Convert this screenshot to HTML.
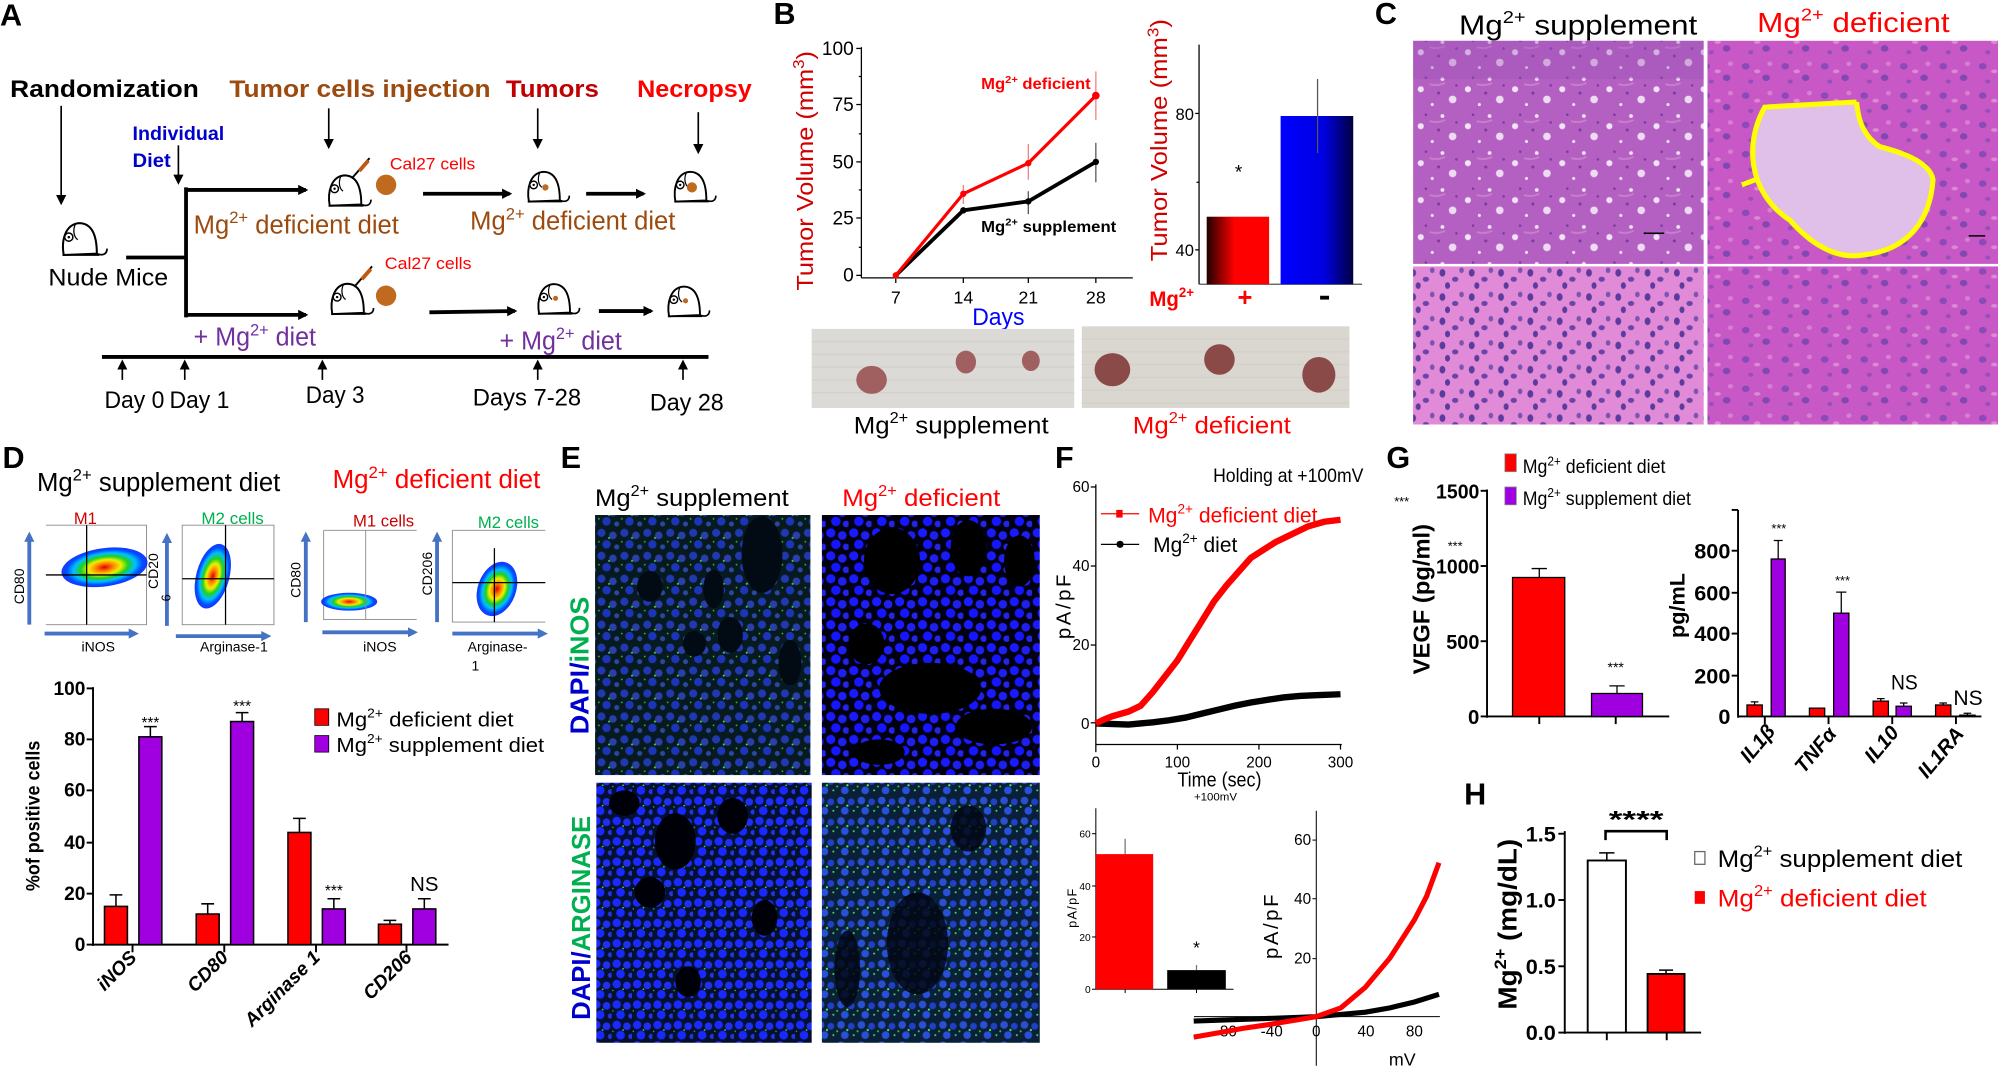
<!DOCTYPE html>
<html><head><meta charset="utf-8"><style>
html,body{margin:0;padding:0;background:#fff;width:1998px;height:1067px;overflow:hidden}
svg{display:block}
text{font-family:"Liberation Sans",sans-serif}
</style></head><body>
<svg width="1998" height="1067" viewBox="0 0 1568 837" preserveAspectRatio="none" xmlns="http://www.w3.org/2000/svg">
<defs>
<marker id="ah" markerWidth="8" markerHeight="8" refX="6" refY="4" orient="auto" markerUnits="userSpaceOnUse"><path d="M0,0 L8,4 L0,8 Z" fill="#000"/></marker>
<marker id="ahb" markerWidth="8" markerHeight="8" refX="5" refY="4" orient="auto" markerUnits="userSpaceOnUse"><path d="M0,0 L8,4 L0,8 Z" fill="#4472c4"/></marker>
<symbol id="mouse" viewBox="0 0 42 30"><path d="M5,28 C3,17 6,4 17,3 C28,3 31,14 31,27 Z" fill="#fff" stroke="#000" stroke-width="1.6"/><path d="M31,27 C36,29 39,27 39,23" fill="none" stroke="#000" stroke-width="1.4"/><path d="M4,28 L33,28" stroke="#000" stroke-width="1.4"/><circle cx="9" cy="14" r="3.2" fill="#fff" stroke="#000" stroke-width="1.2"/><circle cx="9" cy="14" r="1" fill="#000"/><path d="M14,4 C12,9 13,14 16,16" fill="none" stroke="#000" stroke-width="1"/></symbol>
<radialGradient id="blob"><stop offset="0" stop-color="#e00000"/><stop offset="0.2" stop-color="#ff8000"/><stop offset="0.38" stop-color="#f0f000"/><stop offset="0.55" stop-color="#20d020"/><stop offset="0.72" stop-color="#00c0ff"/><stop offset="0.88" stop-color="#0050ff"/><stop offset="1" stop-color="#0020ff" stop-opacity="0.9"/></radialGradient>
<linearGradient id="redbar" x1="0" x2="1"><stop offset="0" stop-color="#200000"/><stop offset="0.45" stop-color="#ff0000"/><stop offset="1" stop-color="#ff0000"/></linearGradient>
<linearGradient id="bluebar" x1="0" x2="1"><stop offset="0" stop-color="#0000ff"/><stop offset="0.6" stop-color="#0000e0"/><stop offset="1" stop-color="#000040"/></linearGradient>
<pattern id="he1" width="37" height="29" patternUnits="userSpaceOnUse"><rect width="37" height="29" fill="#b460c2"/><circle cx="5" cy="12" r="2.4" fill="#f0e4f4"/><circle cx="22" cy="4" r="1.5" fill="#f0e4f4"/><circle cx="30" cy="20" r="3" fill="#ecdcf0"/><circle cx="14" cy="24" r="1.2" fill="#f0e4f4"/><circle cx="19" cy="15" r="1.2" fill="#7a3aa0"/><circle cx="9" cy="3" r="1" fill="#7a3aa0"/><circle cx="33" cy="9" r="1" fill="#7a3aa0"/><path d="M12,8 Q18,10 24,7" stroke="#c880cc" stroke-width="1.5" fill="none"/></pattern>
<pattern id="he2" width="23" height="19" patternUnits="userSpaceOnUse"><rect width="23" height="19" fill="#e08ad8"/><ellipse cx="5" cy="5" rx="2.3" ry="3" fill="#5b3b9e"/><ellipse cx="15" cy="10" rx="2.5" ry="2" fill="#6a44a8"/><ellipse cx="9" cy="15" rx="2" ry="2.6" fill="#5b3b9e"/><ellipse cx="20" cy="3" rx="1.8" ry="2.2" fill="#7a54b0"/></pattern>
<pattern id="he3" width="31" height="23" patternUnits="userSpaceOnUse"><rect width="31" height="23" fill="#c858c6"/><ellipse cx="6" cy="6" rx="3" ry="2.6" fill="#8a4ab8"/><ellipse cx="22" cy="15" rx="3" ry="2.5" fill="#8048b0"/><ellipse cx="10" cy="18" rx="2" ry="1.6" fill="#9450b8"/><ellipse cx="25" cy="4" rx="2" ry="1.8" fill="#d880d0"/><ellipse cx="15" cy="10" rx="2.5" ry="1.5" fill="#dc8ad4"/></pattern>
<pattern id="dapi" width="18" height="18" patternUnits="userSpaceOnUse"><rect width="18" height="18" fill="#000010"/><circle cx="4" cy="4" r="3.6" fill="#1a1aff"/><circle cx="13" cy="6" r="3.4" fill="#2020ee"/><circle cx="8" cy="13" r="3.7" fill="#1515ff"/><circle cx="16" cy="15" r="2.6" fill="#2525e8"/></pattern>
<pattern id="dapig" width="18" height="18" patternUnits="userSpaceOnUse"><rect width="18" height="18" fill="#061a20"/><circle cx="4" cy="4" r="3.2" fill="#2038b0"/><circle cx="13" cy="6" r="3" fill="#2a40a8"/><circle cx="8" cy="13" r="3.3" fill="#1c34b8"/><circle cx="16" cy="15" r="2" fill="#2a48a0"/><circle cx="10" cy="8" r="0.8" fill="#40e040"/><circle cx="2" cy="11" r="0.7" fill="#30c030"/></pattern>
<pattern id="dapiarg" width="16" height="16" patternUnits="userSpaceOnUse"><rect width="16" height="16" fill="#041030"/><circle cx="4" cy="4" r="3.3" fill="#1a2aff"/><circle cx="12" cy="5" r="3" fill="#2030f0"/><circle cx="7" cy="12" r="3.4" fill="#1828ff"/><circle cx="15" cy="13" r="2" fill="#2535e0"/><circle cx="9" cy="8" r="0.7" fill="#40e040"/><circle cx="1" cy="9" r="0.6" fill="#30c030"/></pattern>
<pattern id="dapiarg2" width="16" height="16" patternUnits="userSpaceOnUse"><rect width="16" height="16" fill="#0a2038"/><circle cx="4" cy="4" r="3" fill="#2a50d0"/><circle cx="12" cy="5" r="2.7" fill="#2040c8"/><circle cx="7" cy="12" r="3" fill="#2850d8"/><circle cx="9" cy="8" r="0.9" fill="#50f050"/><circle cx="1" cy="9" r="0.8" fill="#30d030"/><circle cx="14" cy="12" r="0.8" fill="#40e060"/></pattern>
</defs>

<!-- ===== Panel A ===== -->
<text x="0" y="20" font-size="24" font-weight="bold">A</text>
<text x="8" y="76" font-size="19" font-weight="bold" textLength="148" lengthAdjust="spacingAndGlyphs">Randomization</text>
<text x="180" y="76" font-size="19" font-weight="bold" fill="#9c4a0e" textLength="205" lengthAdjust="spacingAndGlyphs">Tumor cells injection</text>
<text x="397" y="76" font-size="19" font-weight="bold" fill="#c00000" textLength="73" lengthAdjust="spacingAndGlyphs">Tumors</text>
<text x="500" y="76" font-size="19" font-weight="bold" fill="#ff0000" textLength="90" lengthAdjust="spacingAndGlyphs">Necropsy</text>
<text x="104" y="110" font-size="15" font-weight="bold" fill="#0000cc" textLength="72" lengthAdjust="spacingAndGlyphs">Individual</text>
<text x="104" y="131" font-size="15" font-weight="bold" fill="#0000cc" textLength="30" lengthAdjust="spacingAndGlyphs">Diet</text>
<g stroke="#000" stroke-width="1.3" marker-end="url(#ah)">
<line x1="48" y1="83" x2="48" y2="159"/><line x1="140" y1="114" x2="140" y2="143"/>
<line x1="258" y1="85" x2="258" y2="115"/><line x1="422" y1="85" x2="422" y2="115"/><line x1="548" y1="88" x2="548" y2="119"/>
</g>
<use href="#mouse" x="44" y="172" width="44" height="30"/>
<text x="38" y="224" font-size="19" textLength="94" lengthAdjust="spacingAndGlyphs">Nude Mice</text>
<g stroke="#000" stroke-width="3" fill="none">
<line x1="99" y1="202" x2="146" y2="202"/><line x1="146" y1="147" x2="146" y2="249"/>
</g>
<g stroke="#000" stroke-width="3" marker-end="url(#ah)">
<line x1="145" y1="149" x2="240" y2="149"/><line x1="145" y1="247" x2="240" y2="247"/>
<line x1="332" y1="152" x2="400" y2="152"/><line x1="460" y1="152" x2="505" y2="152"/>
<line x1="337" y1="245" x2="404" y2="244"/><line x1="470" y1="244" x2="511" y2="244"/>
</g>
<use href="#mouse" x="254" y="133" width="40" height="32"/>
<use href="#mouse" x="256" y="218" width="40" height="32"/>
<g stroke="#000" stroke-width="1.5"><line x1="276" y1="140" x2="290" y2="124"/><line x1="278" y1="225" x2="292" y2="209"/></g>
<g stroke="#c05a10" stroke-width="3"><line x1="282" y1="134" x2="289" y2="126"/><line x1="284" y1="219" x2="291" y2="211"/></g>
<circle cx="303" cy="145" r="8" fill="#c06a20"/><circle cx="303" cy="232" r="8" fill="#c06a20"/>
<text x="306" y="133" font-size="13" fill="#ff0000" textLength="67" lengthAdjust="spacingAndGlyphs">Cal27 cells</text>
<text x="302" y="211" font-size="13" fill="#ff0000" textLength="68" lengthAdjust="spacingAndGlyphs">Cal27 cells</text>
<use href="#mouse" x="408" y="132" width="44" height="28"/><use href="#mouse" x="523" y="132" width="44" height="28"/>
<circle cx="428" cy="147" r="2.5" fill="#c06a20"/><circle cx="543" cy="147" r="4" fill="#c06a20"/>
<use href="#mouse" x="416" y="220" width="44" height="28"/><use href="#mouse" x="518" y="222" width="44" height="28"/>
<circle cx="436" cy="234" r="2" fill="#c06a20"/><circle cx="538" cy="236" r="2" fill="#c06a20"/>
<text x="152" y="183" font-size="20" fill="#9c4a0e" textLength="161" lengthAdjust="spacingAndGlyphs">Mg<tspan font-size="13" dy="-8">2+</tspan><tspan dy="8"> deficient diet</tspan></text>
<text x="369" y="180" font-size="20" fill="#9c4a0e" textLength="161" lengthAdjust="spacingAndGlyphs">Mg<tspan font-size="13" dy="-8">2+</tspan><tspan dy="8"> deficient diet</tspan></text>
<text x="152" y="271" font-size="20" fill="#7030a0" textLength="96" lengthAdjust="spacingAndGlyphs">+ Mg<tspan font-size="13" dy="-8">2+</tspan><tspan dy="8"> diet</tspan></text>
<text x="392" y="274" font-size="20" fill="#7030a0" textLength="96" lengthAdjust="spacingAndGlyphs">+ Mg<tspan font-size="13" dy="-8">2+</tspan><tspan dy="8"> diet</tspan></text>
<line x1="80" y1="280" x2="556" y2="280" stroke="#000" stroke-width="3"/>
<g stroke="#000" stroke-width="1.3" marker-end="url(#ah)">
<line x1="96" y1="298" x2="96" y2="284"/><line x1="145" y1="298" x2="145" y2="284"/><line x1="253" y1="298" x2="253" y2="284"/><line x1="422" y1="298" x2="422" y2="284"/><line x1="536" y1="298" x2="536" y2="284"/>
</g>
<g font-size="19">
<text x="82" y="320" textLength="47" lengthAdjust="spacingAndGlyphs">Day 0</text>
<text x="133" y="320" textLength="47" lengthAdjust="spacingAndGlyphs">Day 1</text>
<text x="240" y="316" textLength="46" lengthAdjust="spacingAndGlyphs">Day 3</text>
<text x="371" y="318" textLength="85" lengthAdjust="spacingAndGlyphs">Days 7-28</text>
<text x="510" y="322" textLength="58" lengthAdjust="spacingAndGlyphs">Day 28</text>
</g>

<!-- ===== Panel B ===== -->
<text x="607" y="19" font-size="24" font-weight="bold">B</text>
<g stroke="#000" stroke-width="1">
<line x1="676" y1="37" x2="676" y2="218"/><line x1="676" y1="218" x2="889" y2="218"/>
<line x1="672" y1="38" x2="676" y2="38"/><line x1="672" y1="82" x2="676" y2="82"/><line x1="672" y1="127" x2="676" y2="127"/><line x1="672" y1="171" x2="676" y2="171"/><line x1="672" y1="216" x2="676" y2="216"/>
<line x1="674" y1="60" x2="676" y2="60"/><line x1="674" y1="105" x2="676" y2="105"/><line x1="674" y1="149" x2="676" y2="149"/><line x1="674" y1="194" x2="676" y2="194"/>
<line x1="703" y1="218" x2="703" y2="222"/><line x1="756" y1="218" x2="756" y2="222"/><line x1="807" y1="218" x2="807" y2="222"/><line x1="860" y1="218" x2="860" y2="222"/>
</g>
<g font-size="15" text-anchor="end"><text x="670" y="43">100</text><text x="670" y="87">75</text><text x="670" y="132">50</text><text x="670" y="176">25</text><text x="670" y="221">0</text></g>
<g font-size="14" text-anchor="middle"><text x="703" y="238">7</text><text x="756" y="238">14</text><text x="807" y="238">21</text><text x="860" y="238">28</text></g>
<text transform="translate(638,134) rotate(-90)" font-size="18" fill="#d00000" text-anchor="middle" textLength="188" lengthAdjust="spacingAndGlyphs">Tumor Volume (mm<tspan font-size="12" dy="-7">3</tspan><tspan dy="7">)</tspan></text>
<text x="763" y="255" font-size="19" fill="#0000ff" textLength="41" lengthAdjust="spacingAndGlyphs">Days</text>
<g stroke="#f08080" stroke-width="1"><line x1="756" y1="145" x2="756" y2="160"/><line x1="807" y1="113" x2="807" y2="141"/><line x1="860" y1="56" x2="860" y2="94"/></g>
<g stroke="#555" stroke-width="1"><line x1="807" y1="150" x2="807" y2="168"/><line x1="860" y1="112" x2="860" y2="143"/></g>
<polyline points="703,216 756,165 807,158 860,127" fill="none" stroke="#000" stroke-width="3"/>
<polyline points="703,216 756,152 807,128 860,75" fill="none" stroke="#ff0000" stroke-width="2.5"/>
<g fill="#000"><circle cx="756" cy="165" r="2.5"/><circle cx="807" cy="158" r="2.5"/><circle cx="860" cy="127" r="2.5"/></g>
<g fill="#f00"><circle cx="703" cy="216" r="2.5"/><circle cx="756" cy="152" r="2.5"/><circle cx="807" cy="128" r="2.5"/><circle cx="860" cy="75" r="3"/></g>
<text x="770" y="70" font-size="12" font-weight="bold" fill="#ff0000" textLength="86" lengthAdjust="spacingAndGlyphs">Mg<tspan font-size="8" dy="-5">2+</tspan><tspan dy="5"> deficient</tspan></text>
<text x="770" y="182" font-size="12" font-weight="bold" textLength="106" lengthAdjust="spacingAndGlyphs">Mg<tspan font-size="8" dy="-5">2+</tspan><tspan dy="5"> supplement</tspan></text>
<line x1="941" y1="35" x2="941" y2="223" stroke="#000" stroke-width="1"/>
<line x1="941" y1="223" x2="1069" y2="223" stroke="#555" stroke-width="1"/>
<g stroke="#000"><line x1="938" y1="89" x2="941" y2="89"/><line x1="938" y1="196" x2="941" y2="196"/><line x1="939" y1="143" x2="941" y2="143"/></g>
<g font-size="13" text-anchor="end"><text x="937" y="94">80</text><text x="937" y="201">40</text></g>
<rect x="947" y="170" width="49" height="53" fill="url(#redbar)"/>
<rect x="1005" y="91" width="57" height="132" fill="url(#bluebar)"/>
<line x1="1034" y1="62" x2="1034" y2="120" stroke="#555" stroke-width="1"/>
<text x="972" y="140" font-size="15" text-anchor="middle">*</text>
<text transform="translate(916,110) rotate(-90)" font-size="18" fill="#d00000" text-anchor="middle" textLength="190" lengthAdjust="spacingAndGlyphs">Tumor Volume (mm<tspan font-size="12" dy="-7">3</tspan><tspan dy="7">)</tspan></text>
<text x="902" y="240" font-size="17" font-weight="bold" fill="#ff0000" textLength="35" lengthAdjust="spacingAndGlyphs">Mg<tspan font-size="11" dy="-7">2+</tspan><tspan dy="7"></tspan></text>
<text x="977" y="240" font-size="20" font-weight="bold" fill="#ff0000" text-anchor="middle">+</text>
<rect x="1036" y="232" width="7" height="3" fill="#000"/>
<rect x="637" y="258" width="206" height="62" fill="#dcdad6"/>
<rect x="849" y="256" width="210" height="64" fill="#dad6d0"/>
<g stroke="#cfcbc5" stroke-width="1.2" opacity="0.6">
<path d="M637,268 H843 M637,278 H843 M637,288 H843 M637,298 H843 M637,308 H843 M849,266 H1059 M849,276 H1059 M849,286 H1059 M849,296 H1059 M849,306 H1059 M849,316 H1059"/></g>
<g fill="#a06060"><ellipse cx="684" cy="298" rx="12" ry="11"/><ellipse cx="758" cy="284" rx="8" ry="9"/><ellipse cx="809" cy="283" rx="7" ry="8"/>
<ellipse cx="873" cy="290" rx="14" ry="13" fill="#8a4a48"/><ellipse cx="957" cy="282" rx="12" ry="12" fill="#8a4a48"/><ellipse cx="1035" cy="294" rx="13" ry="14" fill="#8a4a48"/></g>
<text x="670" y="340" font-size="19" textLength="153" lengthAdjust="spacingAndGlyphs">Mg<tspan font-size="12" dy="-8">2+</tspan><tspan dy="8"> supplement</tspan></text>
<text x="889" y="340" font-size="19" fill="#ff0000" textLength="124" lengthAdjust="spacingAndGlyphs">Mg<tspan font-size="12" dy="-8">2+</tspan><tspan dy="8"> deficient</tspan></text>

<!-- ===== Panel C ===== -->
<text x="1079" y="19" font-size="24" font-weight="bold">C</text>
<text x="1145" y="27" font-size="22" textLength="187" lengthAdjust="spacingAndGlyphs">Mg<tspan font-size="14" dy="-9">2+</tspan><tspan dy="9"> supplement</tspan></text>
<text x="1379" y="25" font-size="22" fill="#ff0000" textLength="151" lengthAdjust="spacingAndGlyphs">Mg<tspan font-size="14" dy="-9">2+</tspan><tspan dy="9"> deficient</tspan></text>
<rect x="1109" y="32" width="228" height="175" fill="url(#he1)"/>
<rect x="1109" y="32" width="228" height="30" fill="#9c50b8" opacity="0.35"/>
<rect x="1340" y="32" width="228" height="175" fill="url(#he3)"/>
<path d="M1385,84 C1370,110 1370,150 1405,173 C1420,190 1440,204 1462,200 C1500,196 1515,170 1517,141 C1515,128 1495,120 1475,115 C1460,105 1458,90 1457,80 Z" fill="#e0c0e8"/>
<path d="M1457,80 L1385,84 C1370,110 1370,150 1405,173 C1420,190 1440,204 1462,200 C1500,196 1515,170 1517,141 C1515,128 1495,120 1475,115 C1460,105 1458,90 1457,80 M1380,140 L1367,145" fill="none" stroke="#ffff00" stroke-width="4"/>
<rect x="1109" y="209" width="228" height="124" fill="url(#he2)"/>
<rect x="1340" y="209" width="228" height="124" fill="url(#he3)"/>
<line x1="1290" y1="183" x2="1306" y2="183" stroke="#000" stroke-width="1.2"/>
<line x1="1545" y1="185" x2="1558" y2="185" stroke="#000" stroke-width="1.2"/>

<!-- ===== Panel D ===== -->
<text x="2" y="367" font-size="24" font-weight="bold">D</text>
<text x="29" y="385" font-size="20" textLength="191" lengthAdjust="spacingAndGlyphs">Mg<tspan font-size="13" dy="-8">2+</tspan><tspan dy="8"> supplement diet</tspan></text>
<text x="261" y="383" font-size="20" fill="#ff0000" textLength="163" lengthAdjust="spacingAndGlyphs">Mg<tspan font-size="13" dy="-8">2+</tspan><tspan dy="8"> deficient diet</tspan></text>
<g stroke="#4472c4" stroke-width="3" marker-end="url(#ahb)">
<line x1="23" y1="490" x2="23" y2="420"/><line x1="35" y1="497" x2="106" y2="497"/>
<line x1="131" y1="491" x2="131" y2="421"/><line x1="138" y1="499" x2="210" y2="499"/>
<line x1="240" y1="488" x2="240" y2="420"/><line x1="253" y1="496" x2="325" y2="496"/>
<line x1="343" y1="488" x2="343" y2="420"/><line x1="355" y1="497" x2="427" y2="497"/>
</g>
<g stroke="#888" stroke-width="0.7" fill="none">
<path d="M36,412 H115 V490 H36"/><path d="M143,412 H215 V490 H143 Z"/><path d="M254,416 H327 M254,416 V486 H327"/><path d="M355,416 H428 M355,416 V488 H428"/>
</g>
<ellipse cx="82" cy="445" rx="34" ry="15" fill="url(#blob)" transform="rotate(-8 82 445)"/>
<ellipse cx="167" cy="452" rx="13" ry="26" fill="url(#blob)" transform="rotate(15 167 452)"/>
<ellipse cx="274" cy="472" rx="22" ry="7" fill="url(#blob)"/>
<ellipse cx="390" cy="462" rx="15" ry="22" fill="url(#blob)" transform="rotate(20 390 462)"/>
<g stroke="#000" stroke-width="1">
<line x1="68" y1="412" x2="68" y2="490"/><line x1="36" y1="451" x2="115" y2="451"/>
<line x1="177" y1="412" x2="177" y2="490"/><line x1="143" y1="454" x2="215" y2="454"/>
<line x1="388" y1="430" x2="388" y2="488"/><line x1="355" y1="457" x2="428" y2="457"/>
</g>
<line x1="287" y1="416" x2="287" y2="486" stroke="#888" stroke-width="0.7"/>
<text x="58" y="411" font-size="13" fill="#cc0000">M1</text>
<text x="158" y="411" font-size="13" fill="#00b050" textLength="49" lengthAdjust="spacingAndGlyphs">M2 cells</text>
<text x="277" y="413" font-size="13" fill="#cc0000" textLength="48" lengthAdjust="spacingAndGlyphs">M1 cells</text>
<text x="375" y="414" font-size="13" fill="#00b050" textLength="48" lengthAdjust="spacingAndGlyphs">M2 cells</text>
<g font-size="11">
<text transform="translate(19,460) rotate(-90)" text-anchor="middle">CD80</text>
<text transform="translate(124,448) rotate(-90)" text-anchor="middle">CD20</text>
<text transform="translate(134,469) rotate(-90)" text-anchor="middle" font-size="10">6</text>
<text transform="translate(236,455) rotate(-90)" text-anchor="middle">CD80</text>
<text transform="translate(339,450) rotate(-90)" text-anchor="middle">CD206</text>
<text x="64" y="511">iNOS</text><text x="157" y="511">Arginase-1</text><text x="285" y="511">iNOS</text><text x="367" y="511">Arginase-</text><text x="370" y="526">1</text>
</g>
<g stroke="#000" stroke-width="1.5"><line x1="73" y1="539" x2="73" y2="742"/><line x1="73" y1="741" x2="352" y2="741"/>
<line x1="68" y1="540" x2="73" y2="540"/><line x1="68" y1="580" x2="73" y2="580"/><line x1="68" y1="620" x2="73" y2="620"/><line x1="68" y1="661" x2="73" y2="661"/><line x1="68" y1="701" x2="73" y2="701"/><line x1="68" y1="741" x2="73" y2="741"/>
<line x1="104" y1="741" x2="104" y2="747"/><line x1="176" y1="741" x2="176" y2="747"/><line x1="248" y1="741" x2="248" y2="747"/><line x1="319" y1="741" x2="319" y2="747"/></g>
<g font-size="15" font-weight="bold" text-anchor="end"><text x="67" y="545">100</text><text x="67" y="585">80</text><text x="67" y="625">60</text><text x="67" y="666">40</text><text x="67" y="706">20</text><text x="67" y="746">0</text></g>
<g stroke="#000" stroke-width="1.2">
<rect x="82" y="711" width="18" height="30" fill="#ff0000"/><rect x="109" y="578" width="18" height="163" fill="#a000e0"/>
<rect x="154" y="717" width="18" height="24" fill="#ff0000"/><rect x="181" y="566" width="18" height="175" fill="#a000e0"/>
<rect x="226" y="653" width="18" height="88" fill="#ff0000"/><rect x="253" y="713" width="18" height="28" fill="#a000e0"/>
<rect x="297" y="725" width="18" height="16" fill="#ff0000"/><rect x="324" y="713" width="18" height="28" fill="#a000e0"/>
<path d="M91,711 V702 M86,702 H96 M118,578 V570 M113,570 H123 M163,717 V709 M158,709 H168 M190,566 V559 M185,559 H195 M235,653 V642 M230,642 H240 M262,713 V705 M257,705 H267 M306,725 V722 M301,722 H311 M333,713 V705 M328,705 H338" fill="none"/>
</g>
<g font-size="12" text-anchor="middle"><text x="118" y="571">***</text><text x="190" y="558">***</text><text x="262" y="703">***</text></g>
<text x="333" y="699" font-size="16" text-anchor="middle">NS</text>
<g font-size="15" font-weight="bold" font-style="italic" text-anchor="end">
<text transform="translate(108,752) rotate(-45)">iNOS</text>
<text transform="translate(180,752) rotate(-45)">CD80</text>
<text transform="translate(252,752) rotate(-45)">Arginase 1</text>
<text transform="translate(324,752) rotate(-45)">CD206</text>
</g>
<text transform="translate(31,640) rotate(-90)" font-size="15" font-weight="bold" text-anchor="middle" textLength="118" lengthAdjust="spacingAndGlyphs">%of positive cells</text>
<rect x="247" y="556" width="11" height="13" fill="#ff0000" stroke="#000" stroke-width="0.6"/>
<rect x="247" y="577" width="11" height="13" fill="#a000e0" stroke="#000" stroke-width="0.6"/>
<text x="264" y="570" font-size="16" textLength="139" lengthAdjust="spacingAndGlyphs">Mg<tspan font-size="10" dy="-7">2+</tspan><tspan dy="7"> deficient diet</tspan></text>
<text x="264" y="590" font-size="16" textLength="163" lengthAdjust="spacingAndGlyphs">Mg<tspan font-size="10" dy="-7">2+</tspan><tspan dy="7"> supplement diet</tspan></text>

<!-- ===== Panel E ===== -->
<text x="440" y="367" font-size="24" font-weight="bold">E</text>
<text x="467" y="397" font-size="19" textLength="152" lengthAdjust="spacingAndGlyphs">Mg<tspan font-size="12" dy="-8">2+</tspan><tspan dy="8"> supplement</tspan></text>
<text x="661" y="397" font-size="19" fill="#ff0000" textLength="124" lengthAdjust="spacingAndGlyphs">Mg<tspan font-size="12" dy="-8">2+</tspan><tspan dy="8"> deficient</tspan></text>
<rect x="467" y="404" width="169" height="204" fill="url(#dapig)"/>
<g fill="#020a14"><ellipse cx="598" cy="435" rx="16" ry="30"/><ellipse cx="560" cy="462" rx="8" ry="15"/><ellipse cx="573" cy="498" rx="10" ry="14"/><ellipse cx="510" cy="460" rx="10" ry="12"/><ellipse cx="545" cy="505" rx="9" ry="10"/><ellipse cx="620" cy="520" rx="9" ry="18"/></g>
<rect x="645" y="404" width="171" height="204" fill="url(#dapi)"/>
<g fill="#000"><ellipse cx="700" cy="440" rx="22" ry="26"/><ellipse cx="760" cy="430" rx="14" ry="22"/><ellipse cx="800" cy="440" rx="12" ry="20"/><ellipse cx="730" cy="540" rx="40" ry="20"/><ellipse cx="680" cy="505" rx="14" ry="16"/><ellipse cx="780" cy="570" rx="30" ry="14"/><ellipse cx="690" cy="590" rx="20" ry="10"/></g>
<rect x="468" y="614" width="169" height="204" fill="url(#dapiarg)"/>
<g fill="#000008"><ellipse cx="530" cy="660" rx="16" ry="22"/><ellipse cx="575" cy="640" rx="12" ry="14"/><ellipse cx="510" cy="700" rx="12" ry="12"/><ellipse cx="600" cy="720" rx="10" ry="14"/><ellipse cx="540" cy="770" rx="10" ry="12"/><ellipse cx="490" cy="630" rx="12" ry="10"/></g>
<rect x="645" y="614" width="171" height="204" fill="url(#dapiarg2)"/>
<g fill="#020816" opacity="0.85"><ellipse cx="720" cy="740" rx="24" ry="40"/><ellipse cx="665" cy="760" rx="10" ry="30"/><ellipse cx="760" cy="650" rx="14" ry="18"/></g>
<text transform="translate(462,522) rotate(-90)" font-size="20" font-weight="bold" text-anchor="middle" textLength="108" lengthAdjust="spacingAndGlyphs"><tspan fill="#0000cc">DAPI/</tspan><tspan fill="#00b050">iNOS</tspan></text>
<text transform="translate(463,720) rotate(-90)" font-size="20" font-weight="bold" text-anchor="middle" textLength="160" lengthAdjust="spacingAndGlyphs"><tspan fill="#0000cc">DAPI/</tspan><tspan fill="#00b050">ARGINASE</tspan></text>

<!-- ===== Panel F ===== -->
<text x="828" y="367" font-size="24" font-weight="bold">F</text>
<text x="952" y="378" font-size="15" textLength="118" lengthAdjust="spacingAndGlyphs">Holding at +100mV</text>
<g stroke="#000" stroke-width="1">
<line x1="860" y1="380" x2="860" y2="590"/><line x1="860" y1="584" x2="1053" y2="584"/>
<line x1="856" y1="382" x2="860" y2="382"/><line x1="856" y1="444" x2="860" y2="444"/><line x1="856" y1="506" x2="860" y2="506"/><line x1="856" y1="567" x2="860" y2="567"/>
<line x1="924" y1="584" x2="924" y2="588"/><line x1="988" y1="584" x2="988" y2="588"/><line x1="1052" y1="584" x2="1052" y2="588"/>
</g>
<g font-size="12" text-anchor="end"><text x="855" y="386">60</text><text x="855" y="448">40</text><text x="855" y="510">20</text><text x="855" y="572">0</text></g>
<g font-size="12" text-anchor="middle"><text x="860" y="602">0</text><text x="924" y="602">100</text><text x="988" y="602">200</text><text x="1052" y="602">300</text></g>
<text x="924" y="617" font-size="16" textLength="66" lengthAdjust="spacingAndGlyphs">Time (sec)</text>
<text x="937" y="628" font-size="9">+100mV</text>
<text transform="translate(840,475) rotate(-90)" font-size="16" text-anchor="middle" letter-spacing="2">pA/pF</text>
<polyline fill="none" stroke="#000" stroke-width="5" points="860,567.5 885.6,568.4 904.8,566.6 917.6,565 930.4,562.9 943.2,559.8 956,556.7 968.8,553.6 981.6,551.1 994.4,549 1007.2,547.1 1020,545.9 1032.8,545.3 1052,544.6"/>
<polyline fill="none" stroke="#ff0000" stroke-width="5" points="860,567.5 866.4,564.4 872.8,561.9 885.6,558.2 895.2,553.6 904.8,542.8 914.4,530.4 924,518.1 933.6,502.6 943.2,487.2 952.8,471.7 962.4,459.4 972,448.5 981.6,437.7 991.2,431.5 1000.8,425.4 1013.6,419.2 1026.4,413 1039.2,409.3 1052,407.7"/>
<line x1="864" y1="403" x2="894" y2="403" stroke="#ff0000" stroke-width="1"/><rect x="876" y="400" width="5" height="6" fill="#ff0000"/>
<line x1="864" y1="427" x2="894" y2="427" stroke="#000" stroke-width="1"/><circle cx="879" cy="427" r="2.8" fill="#000"/>
<text x="901" y="410" font-size="17" fill="#ff0000" textLength="133" lengthAdjust="spacingAndGlyphs">Mg<tspan font-size="11" dy="-7">2+</tspan><tspan dy="7"> deficient diet</tspan></text>
<text x="905" y="433" font-size="17" textLength="66" lengthAdjust="spacingAndGlyphs">Mg<tspan font-size="11" dy="-7">2+</tspan><tspan dy="7"> diet</tspan></text>
<g stroke="#000" stroke-width="0.8"><line x1="860" y1="634" x2="860" y2="776"/><line x1="860" y1="776" x2="968" y2="776"/>
<line x1="857" y1="654" x2="860" y2="654"/><line x1="857" y1="695" x2="860" y2="695"/><line x1="857" y1="735" x2="860" y2="735"/><line x1="857" y1="776" x2="860" y2="776"/>
<line x1="883" y1="776" x2="883" y2="779"/><line x1="939" y1="776" x2="939" y2="779"/></g>
<g font-size="8" text-anchor="end"><text x="856" y="657">60</text><text x="856" y="698">40</text><text x="856" y="738">20</text><text x="856" y="779">0</text></g>
<rect x="860" y="670" width="45" height="106" fill="#ff0000"/>
<rect x="916" y="761" width="46" height="15" fill="#000"/>
<line x1="883" y1="658" x2="883" y2="670" stroke="#777"/><line x1="939" y1="757" x2="939" y2="761" stroke="#777"/>
<text x="939" y="748" font-size="14" text-anchor="middle">*</text>
<text transform="translate(845,712) rotate(-90)" font-size="10" text-anchor="middle" letter-spacing="1">pA/pF</text>
<g stroke="#000" stroke-width="0.8"><line x1="1033" y1="636" x2="1033" y2="836"/><line x1="937" y1="797.5" x2="1130" y2="797.5"/>
<line x1="1030" y1="659" x2="1033" y2="659"/><line x1="1030" y1="705" x2="1033" y2="705"/><line x1="1030" y1="752" x2="1033" y2="752"/></g>
<g font-size="12" text-anchor="end"><text x="1029" y="663">60</text><text x="1029" y="709">40</text><text x="1029" y="756">20</text></g>
<g font-size="12" text-anchor="middle"><text x="962" y="813">-80</text><text x="998" y="813">-40</text><text x="1033" y="813">0</text><text x="1072" y="813">40</text><text x="1110" y="813">80</text></g>
<text x="1090" y="836" font-size="14">mV</text>
<text transform="translate(1003,726) rotate(-90)" font-size="16" text-anchor="middle" letter-spacing="2">pA/pF</text>
<polyline fill="none" stroke="#000" stroke-width="4" points="936.8,801 984.9,799.3 1033,797.5 1071.5,794 1090.8,790.6 1110,786 1129.3,780"/>
<polyline fill="none" stroke="#ff0000" stroke-width="4" points="936.8,813.6 956,810.2 975.3,806.7 994.5,803.9 1013.8,800.7 1033,797.5 1052.3,790.6 1071.5,774.5 1090.8,751.5 1110,721.6 1119.6,703 1129.3,676.8"/>

<!-- ===== Panel G ===== -->
<text x="1088" y="367" font-size="24" font-weight="bold">G</text>
<rect x="1181" y="356" width="9" height="14" fill="#ff0000" stroke="#888" stroke-width="0.6"/>
<rect x="1181" y="382" width="9" height="14" fill="#a000e0" stroke="#888" stroke-width="0.6"/>
<text x="1195" y="371" font-size="15" textLength="112" lengthAdjust="spacingAndGlyphs">Mg<tspan font-size="10" dy="-6">2+</tspan><tspan dy="6"> deficient diet</tspan></text>
<text x="1195" y="396" font-size="15" textLength="132" lengthAdjust="spacingAndGlyphs">Mg<tspan font-size="10" dy="-6">2+</tspan><tspan dy="6"> supplement diet</tspan></text>
<text x="1100" y="397" font-size="10" text-anchor="middle">***</text>
<text x="1142" y="432" font-size="10" text-anchor="middle">***</text>
<g stroke="#000" stroke-width="1.5"><line x1="1167" y1="384" x2="1167" y2="563"/><line x1="1167" y1="562" x2="1310" y2="562"/>
<line x1="1162" y1="385" x2="1167" y2="385"/><line x1="1162" y1="444" x2="1167" y2="444"/><line x1="1162" y1="503" x2="1167" y2="503"/><line x1="1162" y1="562" x2="1167" y2="562"/>
<line x1="1208" y1="562" x2="1208" y2="568"/><line x1="1268" y1="562" x2="1268" y2="568"/></g>
<g font-size="16" font-weight="bold" text-anchor="end"><text x="1161" y="391" textLength="34" lengthAdjust="spacingAndGlyphs">1500</text><text x="1161" y="450" textLength="34" lengthAdjust="spacingAndGlyphs">1000</text><text x="1161" y="509" textLength="26" lengthAdjust="spacingAndGlyphs">500</text><text x="1161" y="568">0</text></g>
<rect x="1187" y="453" width="41" height="109" fill="#ff0000" stroke="#000" stroke-width="1"/>
<rect x="1249" y="544" width="40" height="18" fill="#a000e0" stroke="#000" stroke-width="1"/>
<path d="M1208,453 V446 M1202,446 H1214 M1269,544 V538 M1263,538 H1275" stroke="#000" stroke-width="1" fill="none"/>
<text x="1268" y="527" font-size="11" text-anchor="middle">***</text>
<text transform="translate(1122,470) rotate(-90)" font-size="18" font-weight="bold" text-anchor="middle" textLength="118" lengthAdjust="spacingAndGlyphs">VEGF (pg/ml)</text>
<g stroke="#000" stroke-width="1.5"><line x1="1364" y1="400" x2="1364" y2="563"/><line x1="1364" y1="562" x2="1555" y2="562"/>
<line x1="1359" y1="400" x2="1364" y2="400"/><line x1="1359" y1="432" x2="1364" y2="432"/><line x1="1359" y1="465" x2="1364" y2="465"/><line x1="1359" y1="497" x2="1364" y2="497"/><line x1="1359" y1="530" x2="1364" y2="530"/>
<line x1="1385" y1="562" x2="1385" y2="568"/><line x1="1435" y1="562" x2="1435" y2="568"/><line x1="1485" y1="562" x2="1485" y2="568"/><line x1="1535" y1="562" x2="1535" y2="568"/></g>
<g font-size="17" font-weight="bold" text-anchor="end"><text x="1358" y="438">800</text><text x="1358" y="471">600</text><text x="1358" y="503">400</text><text x="1358" y="536">200</text><text x="1358" y="568">0</text></g>
<g stroke="#000" stroke-width="1">
<rect x="1371" y="553" width="12" height="9" fill="#ff0000"/><rect x="1390" y="438.5" width="11" height="123.5" fill="#a000e0"/>
<rect x="1420" y="555.5" width="12" height="6.5" fill="#ff0000"/><rect x="1439" y="481" width="12" height="81" fill="#a000e0"/>
<rect x="1470" y="550" width="12" height="12" fill="#ff0000"/><rect x="1488" y="554" width="12" height="8" fill="#a000e0"/>
<rect x="1519" y="553" width="12" height="9" fill="#ff0000"/><rect x="1538" y="561" width="12" height="1" fill="#a000e0"/>
<path d="M1377,553 V550.6 M1374,550.6 H1380 M1395.5,438.5 V424 M1392,424 H1399 M1445,481 V464.5 M1441,464.5 H1449 M1476,550 V548 M1473,548 H1479 M1494,554 V551.5 M1491,551.5 H1497 M1525,553 V551.5 M1522,551.5 H1528 M1544,561 V559.5 M1541,559.5 H1547" fill="none"/>
</g>
<g font-size="10" text-anchor="middle"><text x="1396" y="418">***</text><text x="1446" y="459">***</text></g>
<text x="1484" y="541" font-size="17" textLength="21" lengthAdjust="spacingAndGlyphs">NS</text>
<text x="1533" y="553" font-size="17" textLength="23" lengthAdjust="spacingAndGlyphs">NS</text>
<text transform="translate(1322,475) rotate(-90)" font-size="17" font-weight="bold" text-anchor="middle">pg/mL</text>
<g font-size="16" font-weight="bold" font-style="italic" text-anchor="end">
<text transform="translate(1394,574) rotate(-50)">IL1β</text>
<text transform="translate(1442,576) rotate(-50)">TNFα</text>
<text transform="translate(1491,575) rotate(-50)">IL10</text>
<text transform="translate(1542,576) rotate(-50)">IL1RA</text>
</g>

<!-- ===== Panel H ===== -->
<text x="1149" y="631" font-size="24" font-weight="bold">H</text>
<g stroke="#000" stroke-width="1.5"><line x1="1228" y1="652" x2="1228" y2="811"/><line x1="1228" y1="810" x2="1335" y2="810"/>
<line x1="1223" y1="654" x2="1228" y2="654"/><line x1="1223" y1="706" x2="1228" y2="706"/><line x1="1223" y1="758" x2="1228" y2="758"/><line x1="1223" y1="810" x2="1228" y2="810"/>
<line x1="1261" y1="810" x2="1261" y2="816"/><line x1="1308" y1="810" x2="1308" y2="816"/></g>
<g font-size="17" font-weight="bold" text-anchor="end"><text x="1221" y="660">1.5</text><text x="1221" y="712">1.0</text><text x="1221" y="764">0.5</text><text x="1221" y="816">0.0</text></g>
<rect x="1246" y="675" width="30" height="135" fill="#fff" stroke="#000" stroke-width="1.5"/>
<rect x="1293" y="764" width="29" height="46" fill="#ff0000" stroke="#000" stroke-width="1.5"/>
<path d="M1261,675 V669 M1255,669 H1267 M1307.5,764 V761 M1302,761 H1313" stroke="#000" stroke-width="1.2" fill="none"/>
<path d="M1260,659 V652 H1308 V659" stroke="#000" stroke-width="2" fill="none"/>
<text x="1284" y="649" font-size="19" font-weight="bold" text-anchor="middle" textLength="43" lengthAdjust="spacingAndGlyphs">****</text>
<text transform="translate(1190,725) rotate(-90)" font-size="20" font-weight="bold" text-anchor="middle" textLength="134" lengthAdjust="spacingAndGlyphs">Mg<tspan font-size="13" dy="-8">2+</tspan><tspan dy="8"> (mg/dL)</tspan></text>
<rect x="1330" y="668" width="8" height="10" fill="#fff" stroke="#666" stroke-width="1"/>
<rect x="1330" y="699" width="8" height="10" fill="#ff0000"/>
<text x="1348" y="680" font-size="19" textLength="192" lengthAdjust="spacingAndGlyphs">Mg<tspan font-size="12" dy="-8">2+</tspan><tspan dy="8"> supplement diet</tspan></text>
<text x="1348" y="711" font-size="19" fill="#ff0000" textLength="164" lengthAdjust="spacingAndGlyphs">Mg<tspan font-size="12" dy="-8">2+</tspan><tspan dy="8"> deficient diet</tspan></text>
</svg>
</body></html>
